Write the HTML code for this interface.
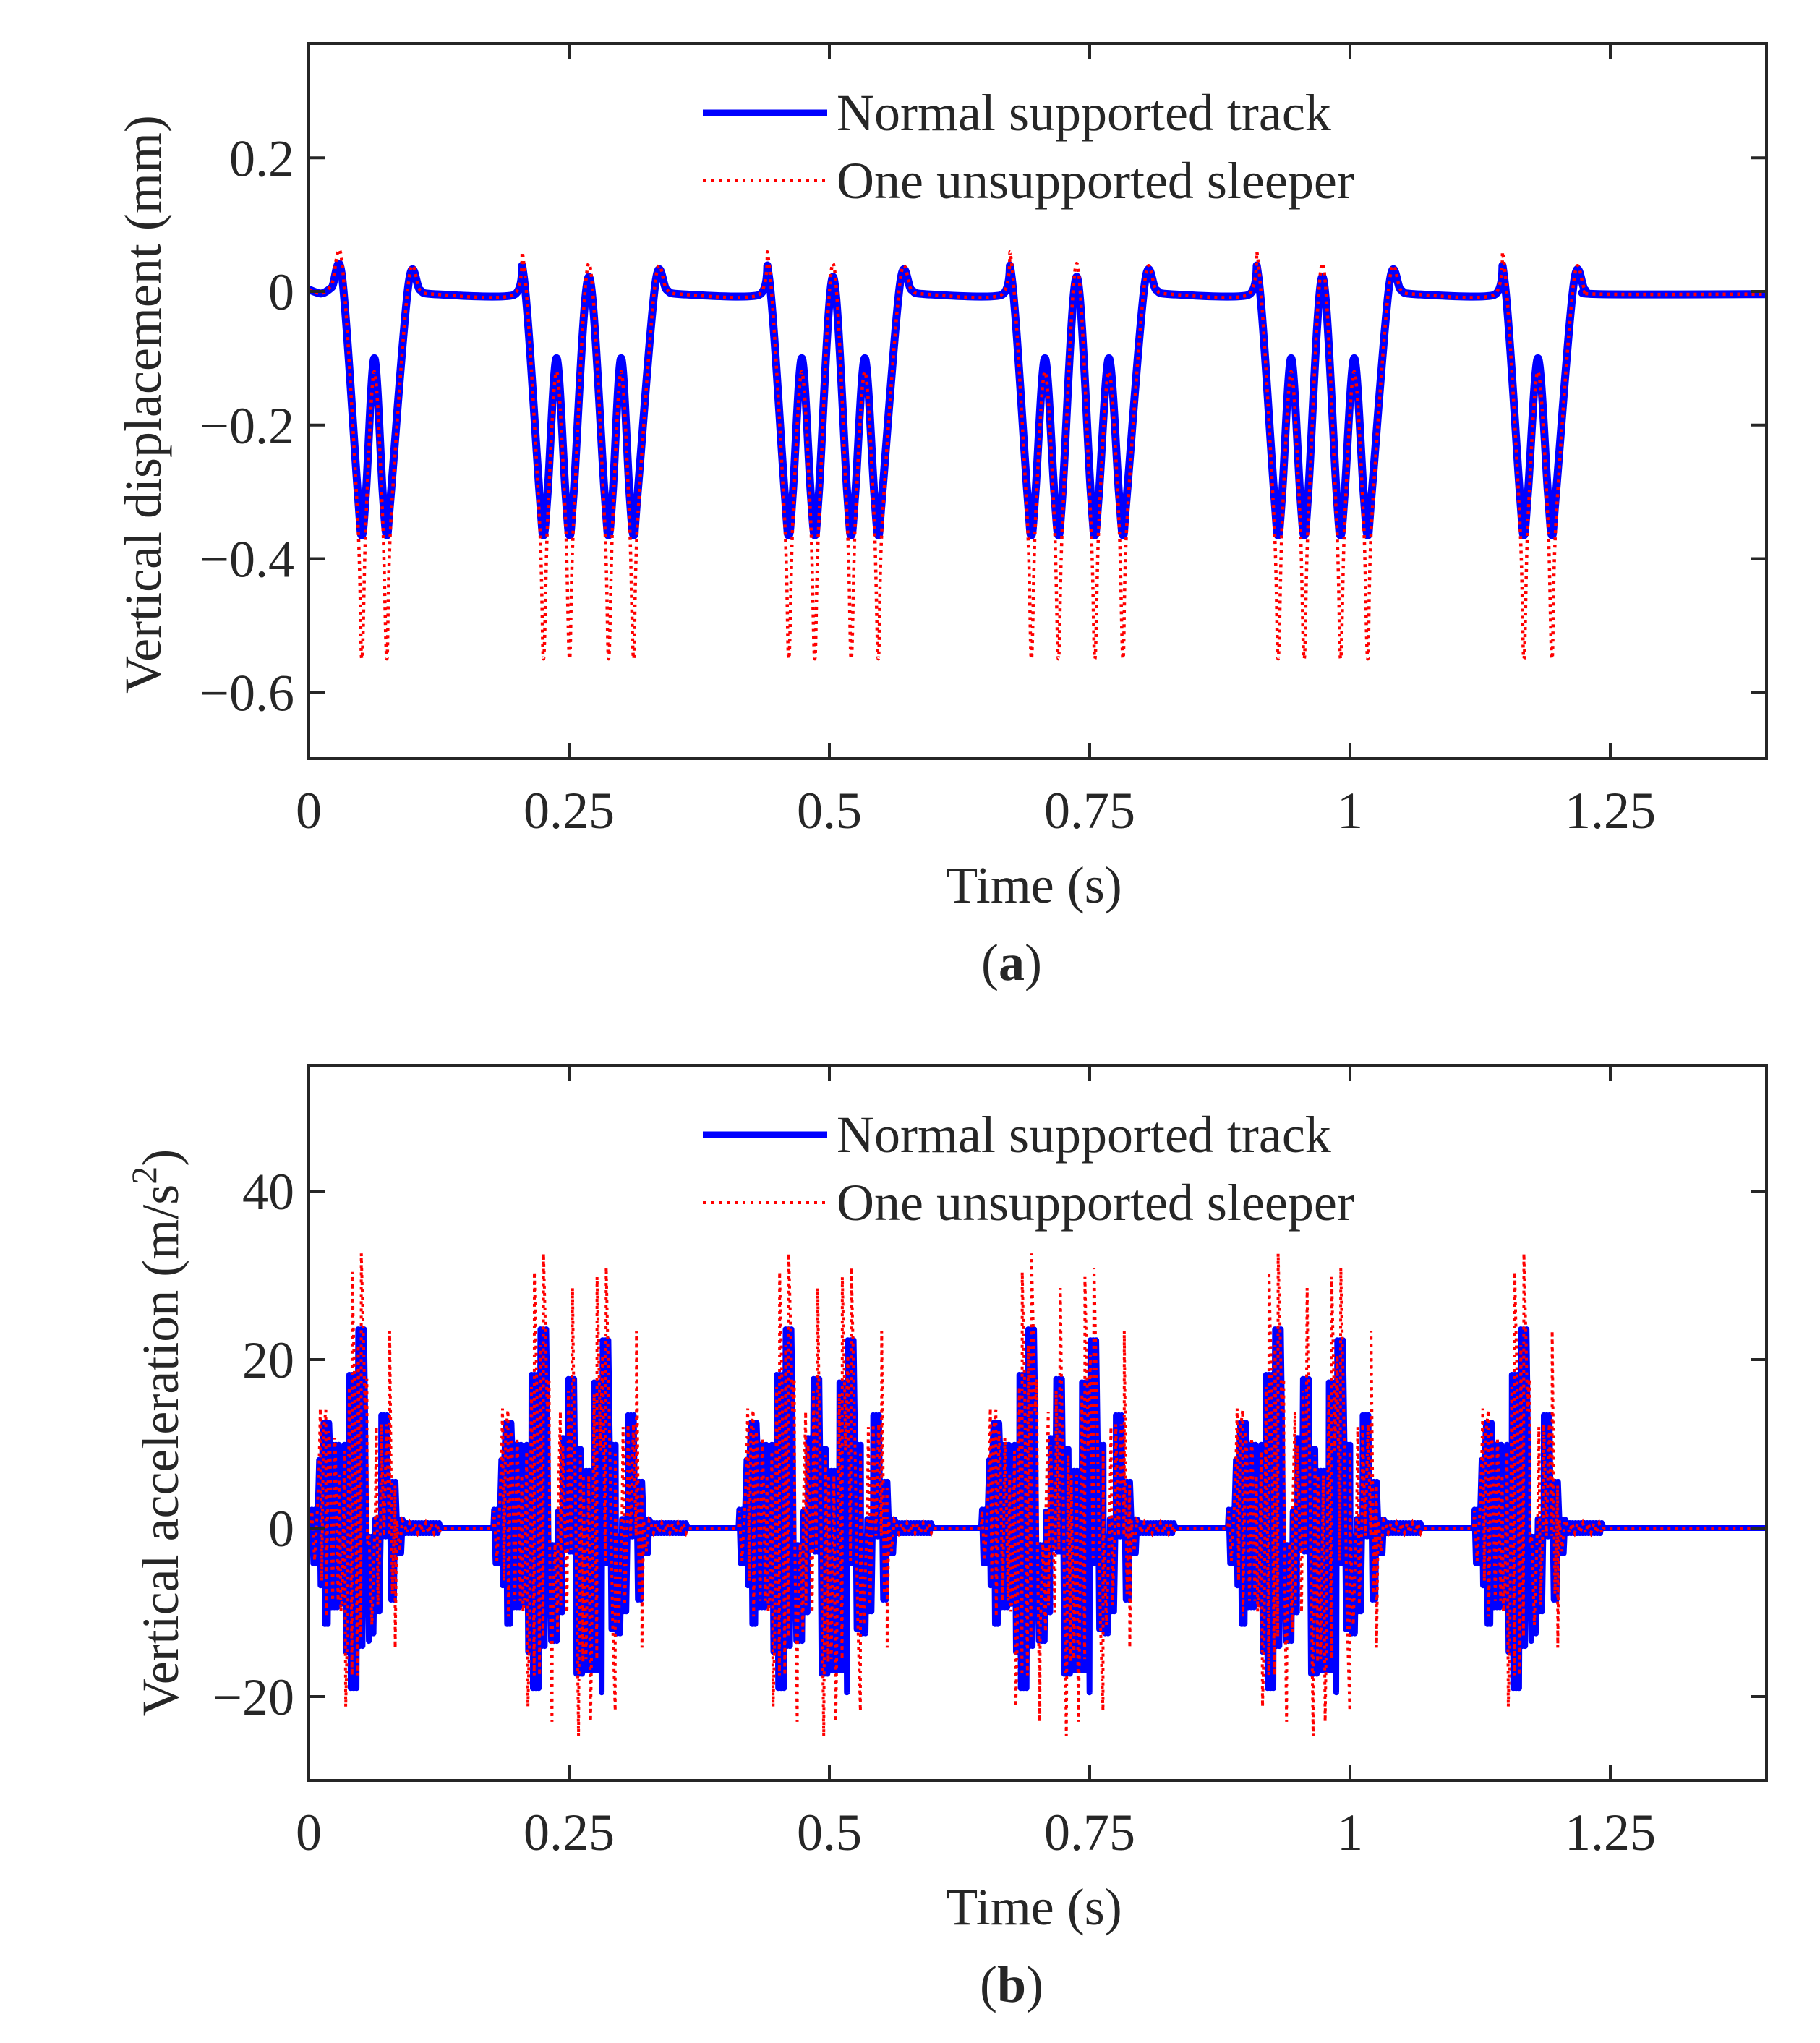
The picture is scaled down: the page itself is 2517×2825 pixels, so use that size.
<!DOCTYPE html>
<html><head><meta charset="utf-8"><style>
html,body{margin:0;padding:0;background:#fff}
svg{display:block}
text{font-family:"Liberation Serif","Times New Roman",serif;fill:#262626}
</style></head><body>
<svg id="fig" width="2517" height="2825" viewBox="0 0 2517 2825" xmlns="http://www.w3.org/2000/svg">
<defs>
<clipPath id="clipA"><rect x="427" y="60" width="2016" height="989"/></clipPath>
<clipPath id="clipB"><rect x="427" y="1473" width="2016" height="989"/></clipPath>
</defs>
<g id="panelA"></g>
<g id="panelB"></g>
</svg>
<script>
// ---------- data: displacement ----------
const xTicks=[0,0.25,0.5,0.75,1,1.25];
const xTickLabels=["0","0.25","0.5","0.75","1","1.25"];
const dispYTicks=[0.2,0,-0.2,-0.4,-0.6];
const dispYTickLabels=["0.2","0","\u22120.2","\u22120.4","\u22120.6"];
const accYTicks=[40,20,0,-20];
const accYTickLabels=["40","20","0","\u221220"];

const dispT=[0,0.012,0.022,0.032,
0.047,0.051,0.055,0.063,0.071,0.075,0.079,0.096,0.107,0.12,
0.1955,0.2065,0.2215,0.2255,0.2295,0.238,0.2465,0.2505,0.2545,0.269,0.284,0.288,0.292,0.300,0.308,0.312,0.316,0.333,0.344,0.357,
0.431,0.442,0.457,0.461,0.465,0.4735,0.482,0.486,0.490,0.5035,0.517,0.521,0.525,0.534,0.543,0.547,0.551,0.568,0.579,0.592,
0.664,0.675,0.690,0.694,0.698,0.707,0.716,0.720,0.724,0.7375,0.751,0.755,0.759,0.7685,0.778,0.782,0.786,0.803,0.814,0.827,
0.901,0.912,0.927,0.931,0.935,0.9435,0.952,0.956,0.960,0.9735,0.987,0.991,0.995,1.004,1.013,1.017,1.021,1.038,1.049,1.062,
1.137,1.148,1.163,1.167,1.171,1.1805,1.190,1.194,1.198,1.215,1.226,1.239,1.4];
const dispNormal=[0.003,-0.003,0.006,0.022,-0.30,-0.365,-0.30,-0.10,-0.30,-0.365,-0.30,0.013,0.002,-0.004,
-0.006,0.022,-0.30,-0.365,-0.30,-0.10,-0.30,-0.365,-0.30,0.022,-0.30,-0.365,-0.30,-0.10,-0.30,-0.365,-0.30,0.013,0.002,-0.004,
-0.006,0.022,-0.30,-0.365,-0.30,-0.10,-0.30,-0.365,-0.30,0.022,-0.30,-0.365,-0.30,-0.10,-0.30,-0.365,-0.30,0.013,0.002,-0.004,
-0.006,0.022,-0.30,-0.365,-0.30,-0.10,-0.30,-0.365,-0.30,0.022,-0.30,-0.365,-0.30,-0.10,-0.30,-0.365,-0.30,0.013,0.002,-0.004,
-0.006,0.022,-0.30,-0.365,-0.30,-0.10,-0.30,-0.365,-0.30,0.022,-0.30,-0.365,-0.30,-0.10,-0.30,-0.365,-0.30,0.013,0.002,-0.004,
-0.006,0.022,-0.30,-0.365,-0.30,-0.10,-0.30,-0.365,-0.30,0.013,0.002,-0.004,-0.004];
const dispUnsup=[0.003,-0.003,0.010,0.042,-0.34,-0.55,-0.34,-0.12,-0.34,-0.55,-0.34,0.016,0.002,-0.004,
-0.006,0.042,-0.34,-0.55,-0.34,-0.12,-0.34,-0.55,-0.34,0.042,-0.34,-0.55,-0.34,-0.12,-0.34,-0.55,-0.34,0.016,0.002,-0.004,
-0.006,0.042,-0.34,-0.55,-0.34,-0.12,-0.34,-0.55,-0.34,0.042,-0.34,-0.55,-0.34,-0.12,-0.34,-0.55,-0.34,0.016,0.002,-0.004,
-0.006,0.042,-0.34,-0.55,-0.34,-0.12,-0.34,-0.55,-0.34,0.042,-0.34,-0.55,-0.34,-0.12,-0.34,-0.55,-0.34,0.016,0.002,-0.004,
-0.006,0.042,-0.34,-0.55,-0.34,-0.12,-0.34,-0.55,-0.34,0.042,-0.34,-0.55,-0.34,-0.12,-0.34,-0.55,-0.34,0.016,0.002,-0.004,
-0.006,0.042,-0.34,-0.55,-0.34,-0.12,-0.34,-0.55,-0.34,0.016,0.002,-0.004,-0.004];

// ---------- data: acceleration (one car-junction pattern, repeated per group) ----------
const accGroupStart=[0.003,0.178,0.4135,0.6465,0.8835,1.1195];
const accGroupSingle=[1,0,0,0,0,1];
const patDt=[0,0.0069,0.0111,0.0174,0.0266,0.0313,0.0359,0.0445,0.051,0.0533,0.0614,0.066,0.0713,0.0776,0.0857,0.0961,0.1019,0.1042,0.1112,0.117,0.1228,0.1286,0.1367,0.1436,0.1506,0.185];
const patNormHi=[2.2,8.1,12.5,9.9,6.8,9.9,18.2,23.6,15.1,-2,2,10.7,17.7,9.4,6.8,17.3,10,22.3,9.9,-1,1.1,13.4,5.5,1,0.6,0.3];
const patNormLo=[-4.2,-6.8,-11.4,-9.4,-9,-14.7,-19,-14,-4.2,-13.4,-10,-2.4,-2.8,-17.3,-16.9,-16.9,-19.5,-4.2,-12,-12.5,-9.9,-1,-8.5,-3,-0.6,-0.3];
const spikeDt=[0.0081,0.0134,0.0220,0.0278,0.0325,0.0387,0.0475,0.0528,0.0556,0.0637,0.0700,0.0753,0.0811,0.0926,0.0989,0.1077,0.1163,0.1239,0.1367,0.1420];
const spikeVal=[14.2,14,10.7,-9.9,-21.2,30.4,32.6,17.7,-23,13.8,-10,28.5,-24.7,-23,29.8,30.9,-21.7,12,23.4,-14.2];

// ---------- helpers ----------
const NS="http://www.w3.org/2000/svg";
function mk(tag,attrs,parent){const e=document.createElementNS(NS,tag);for(const k in attrs)e.setAttribute(k,attrs[k]);if(parent)parent.appendChild(e);return e;}
const X0=427,X1=2443;
function xs(t){return X0+(t/1.4)*(X1-X0);}
function ysA(v){return 403-v*923.75;}
function ysB(v){return 2113-v*11.65;}

function crPath(px,py){
  let d="M"+px[0].toFixed(1)+","+py[0].toFixed(1);
  for(let i=0;i<px.length-1;i++){
    const x0=px[Math.max(0,i-1)],y0=py[Math.max(0,i-1)];
    const x1=px[i],y1=py[i],x2=px[i+1],y2=py[i+1];
    const x3=px[Math.min(px.length-1,i+2)],y3=py[Math.min(px.length-1,i+2)];
    const c1x=x1+(x2-x0)/6,c1y=y1+(y2-y0)/6,c2x=x2-(x3-x1)/6,c2y=y2-(y3-y1)/6;
    d+=" C"+c1x.toFixed(1)+","+c1y.toFixed(1)+" "+c2x.toFixed(1)+","+c2y.toFixed(1)+" "+x2.toFixed(1)+","+y2.toFixed(1);
  }
  return d;
}

function drawAxes(g,top,bot,ys,yTicks,yLabels,yTitle,ySup,yTitleX,yTitleY,letter,legY){
  xTicks.forEach((t,i)=>{
    const x=xs(t);
    const tk=mk("line",{x1:x,y1:bot,x2:x,y2:bot-22,stroke:"#262626","stroke-width":4},g);
    
    
    const tk2=mk("line",{x1:x,y1:top,x2:x,y2:top+22,stroke:"#262626","stroke-width":4},g);
    
    
    const tl=mk("text",{x:x,y:bot+96,"font-size":72,"text-anchor":"middle"},g);
    tl.textContent=xTickLabels[i];
    
    
  });
  yTicks.forEach((v,i)=>{
    const y=ys(v);
    const tk=mk("line",{x1:X0,y1:y,x2:X0+22,y2:y,stroke:"#262626","stroke-width":4},g);
    
    
    const tk2=mk("line",{x1:X1,y1:y,x2:X1-22,y2:y,stroke:"#262626","stroke-width":4},g);
    
    
    const tl=mk("text",{x:407,y:y+25,"font-size":72,"text-anchor":"end"},g);
    tl.textContent=yLabels[i];
    
    
  });
  const xt=mk("text",{x:(X0+X1)/2-5,y:bot+199,"font-size":72,"text-anchor":"middle"},g);
  xt.textContent="Time (s)";
  
  
  const yt=mk("text",{x:0,y:0,"font-size":72,"text-anchor":"middle",transform:"translate("+yTitleX+","+yTitleY+") rotate(-90)"},g);
  
  
  if(ySup){
    const a=mk("tspan",{},yt);a.textContent=yTitle;
    const b=mk("tspan",{dy:-30,"font-size":50},yt);b.textContent="2";
    const c=mk("tspan",{dy:30},yt);c.textContent=")";
  } else yt.textContent=yTitle;
  const cap=mk("text",{x:1399,y:bot+306,"font-size":72,"text-anchor":"middle"},g);
  
  
  const p1=mk("tspan",{},cap);p1.textContent="(";
  const p2=mk("tspan",{"font-weight":"bold"},cap);p2.textContent=letter;
  const p3=mk("tspan",{},cap);p3.textContent=")";
  const lg=mk("g",{},g);
  
  
  const l1=mk("line",{x1:972,y1:legY,x2:1144,y2:legY,stroke:"#0000ff","stroke-width":9},lg);
  
  
  const t1=mk("text",{x:1157,y:legY+24,"font-size":72},lg);t1.textContent="Normal supported track";
  
  
  const l2=mk("line",{x1:972,y1:legY+94,x2:1144,y2:legY+94,stroke:"#ff0000","stroke-width":4,"stroke-dasharray":"4 7"},lg);
  
  
  const t2=mk("text",{x:1157,y:legY+118,"font-size":72},lg);t2.textContent="One unsupported sleeper";
  
  
  const fr=mk("rect",{x:X0,y:top,width:X1-X0,height:bot-top,fill:"none",stroke:"#262626","stroke-width":4},g);
  
  
}

// ---------- panel A ----------
const gA=document.getElementById("panelA");
const dA=mk("g",{"clip-path":"url(#clipA)"},gA);


const pxA=dispT.map(xs);
const pN=mk("path",{d:crPath(pxA,dispNormal.map(ysA)),fill:"none",stroke:"#0000ff","stroke-width":11,"stroke-linejoin":"round"},dA);


const pU=mk("path",{d:crPath(pxA,dispUnsup.map(ysA)),fill:"none",stroke:"#ff0000","stroke-width":4.5,"stroke-dasharray":"4 6"},dA);


drawAxes(gA,60,1049,ysA,dispYTicks,dispYTickLabels,"Vertical displacement (mm)",false,222,559,"a",156);

// ---------- panel B ----------
function buildAcc(hiArr,loArr,scale,withSpikes,h){
  const pts=[{t:0,v:0}];
  accGroupStart.forEach((t0,gi)=>{
    const single=accGroupSingle[gi]===1;
    pts.push({t:t0-0.0008,v:0});
    for(let i=0;i<patDt.length-1;i++){
      let s=patDt[i],e=patDt[i+1],off=0;
      if(single){
        if(s<0.055){e=Math.min(e,0.055);}
        else if(s>=0.117){off=-0.062;}
        else continue;
      }
      let k=0;
      for(let t=s;t<e;t+=h){
        pts.push({t:t0+t+off,v:(k%2===0?hiArr[i]:loArr[i])*scale});k++;
      }
    }
    if(withSpikes){
      spikeDt.forEach((d,j)=>{
        let off=0;
        if(single){ if(d<0.055)off=0; else if(d>=0.117)off=-0.062; else return; }
        pts.push({t:t0+d+off,v:spikeVal[j]});
      });
    }
    const lastEnd=single?(t0+patDt[patDt.length-1]-0.062):(t0+patDt[patDt.length-1]);
    pts.push({t:lastEnd+0.001,v:0});
  });
  pts.push({t:1.4,v:0});
  pts.sort((a,b)=>a.t-b.t);
  return pts;
}
const gB=document.getElementById("panelB");
const dB=mk("g",{"clip-path":"url(#clipB)"},gB);


const nPts=buildAcc(patNormHi,patNormLo,1,false,0.0014);
const uPts=buildAcc(patNormHi,patNormLo,0.92,true,0.0026);
const toD=p=>p.map((q,i)=>(i?"L":"M")+xs(q.t).toFixed(1)+","+ysB(q.v).toFixed(1)).join(" ");
const aN=mk("path",{d:toD(nPts),fill:"none",stroke:"#0000ff","stroke-width":8,"stroke-linejoin":"round"},dB);


const aU=mk("path",{d:toD(uPts),fill:"none",stroke:"#ff0000","stroke-width":4,"stroke-dasharray":"4 6"},dB);


drawAxes(gB,1473,2462,ysB,accYTicks,accYTickLabels,"Vertical acceleration (m/s",true,246,1981,"b",1569);
</script>
</body></html>
